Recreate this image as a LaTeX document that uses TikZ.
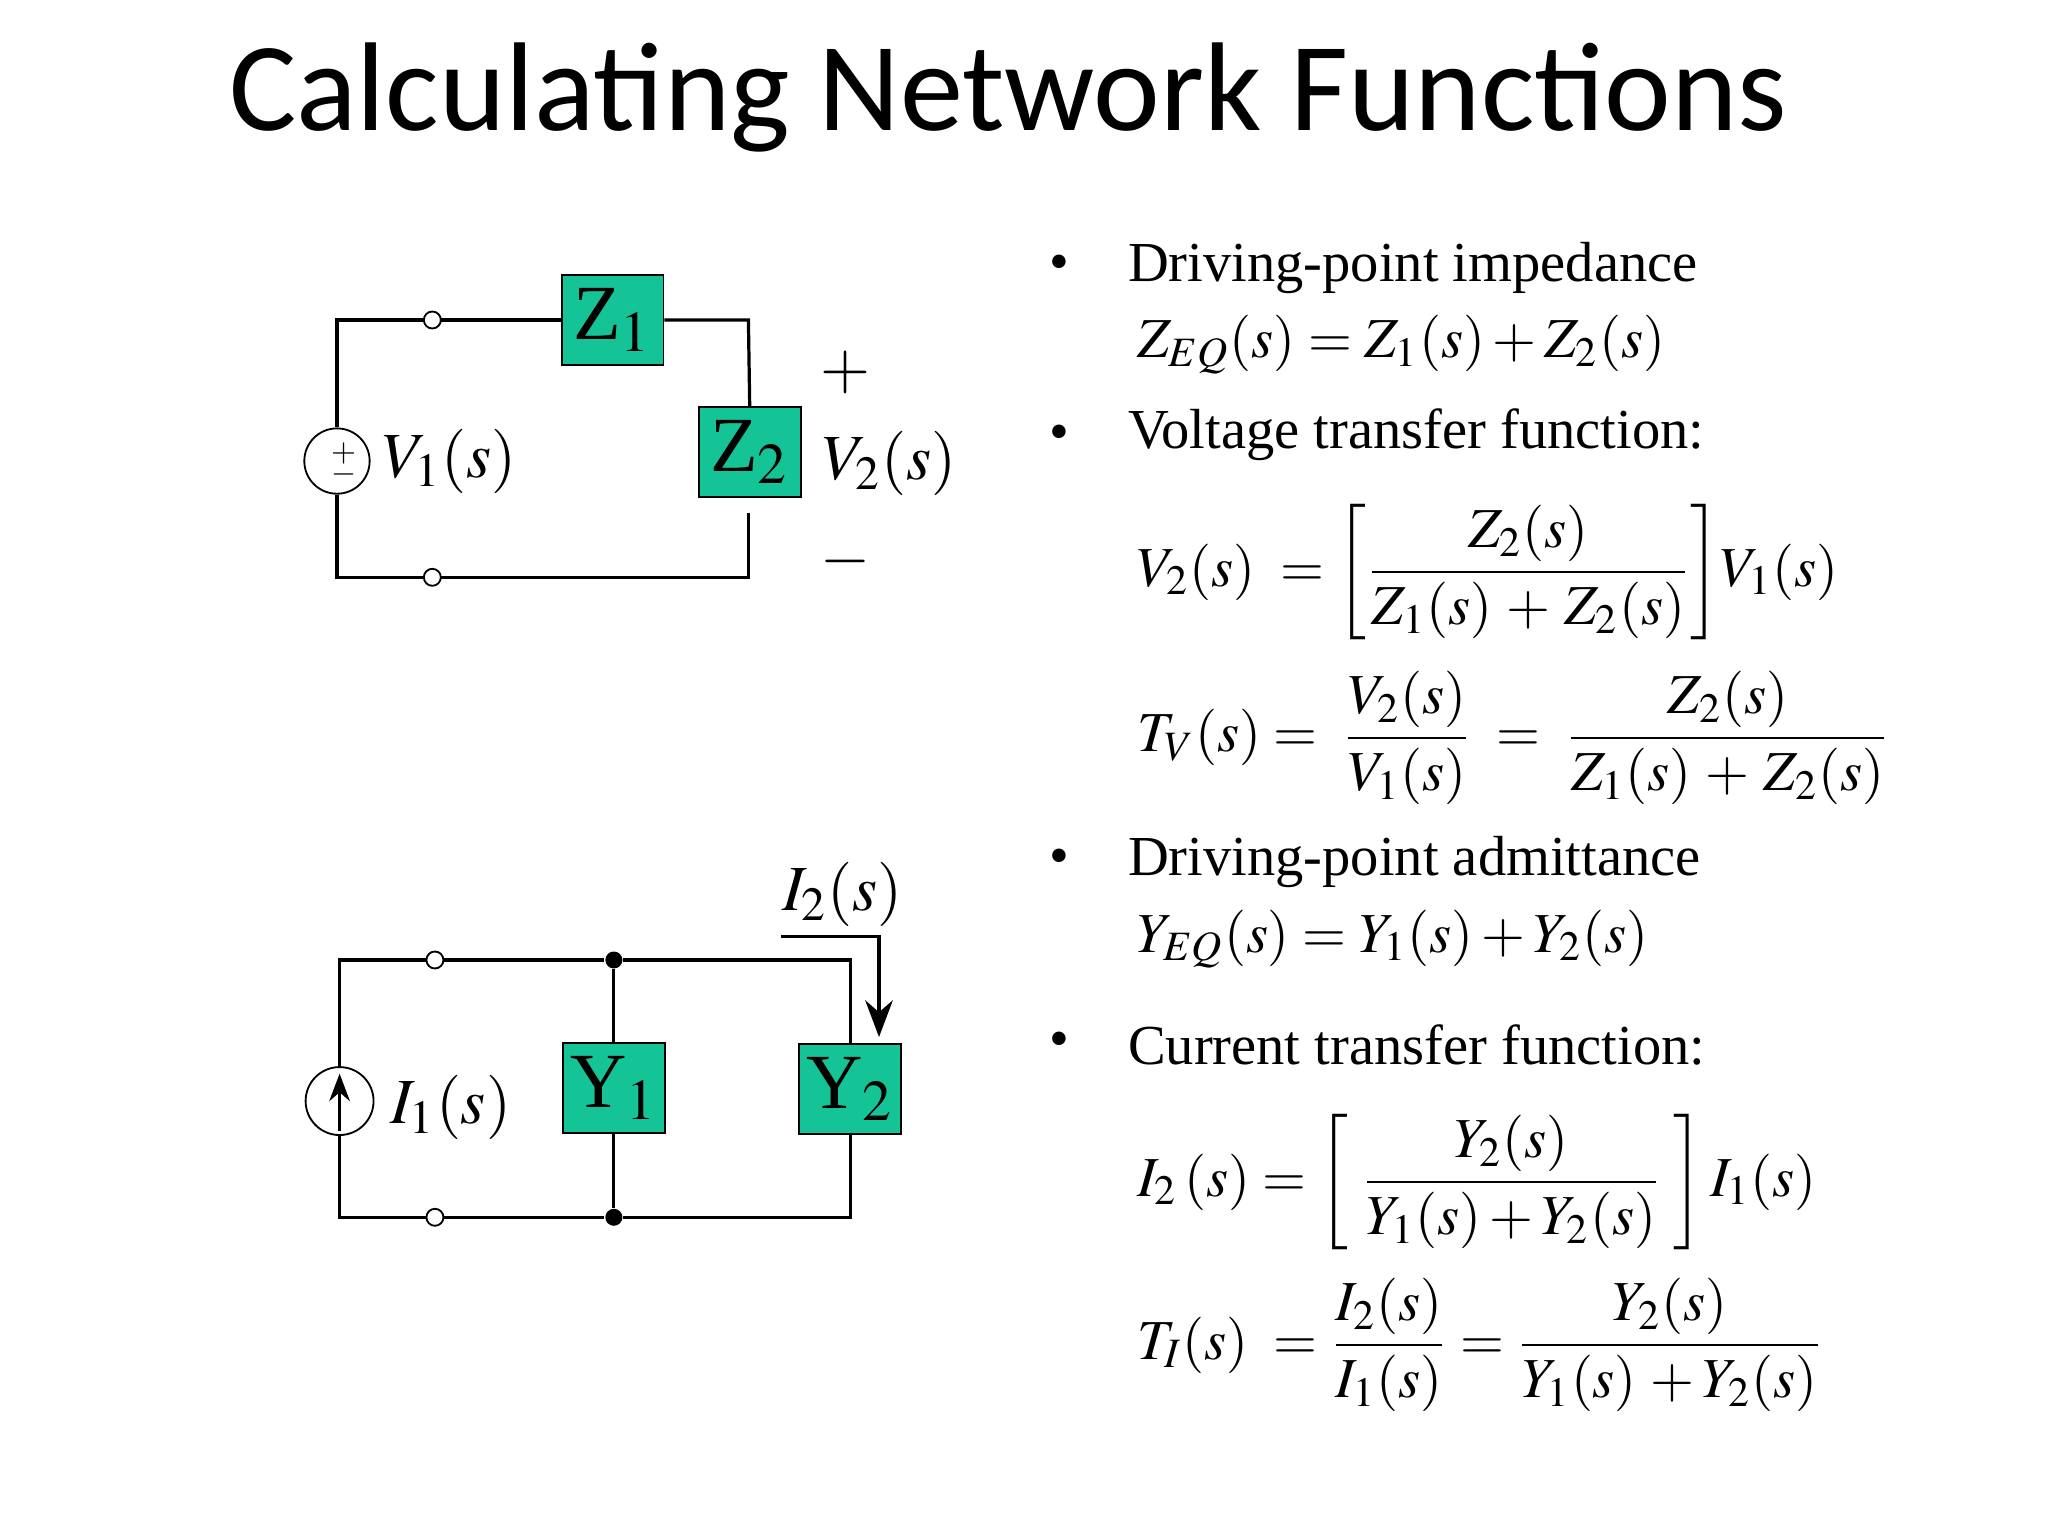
\documentclass[tikz,border=0pt]{standalone}
\usepackage{amsmath}
\usepackage{mathptmx}
\usepackage[no-math]{fontspec}
\usetikzlibrary{arrows.meta}
\setmainfont{Liberation Serif}
\newfontfamily\titlefont{Carlito}
\definecolor{boxg}{RGB}{20,196,150}
\tikzset{
  imp/.style={draw,fill=boxg,minimum width=0.78cm,minimum height=0.69cm,inner sep=0pt,font=\fontsize{17}{17}\selectfont},
  wire/.style={line width=0.7pt},
  term/.style={circle,draw,fill=white,inner sep=0pt,minimum size=0.13cm},
  jn/.style={circle,fill=black,inner sep=0pt,minimum size=0.13cm},
  txt/.style={anchor=west,inner sep=0pt,font=\fontsize{12.3}{15}\selectfont},
  eq/.style={anchor=west,inner sep=0pt,font=\fontsize{12.3}{15}\selectfont},
  lbl/.style={inner sep=0pt,font=\fontsize{14}{16}\selectfont}
}
\begin{document}
\begin{tikzpicture}[x=0.01cm,y=-0.01cm]
\useasboundingbox (0,0) rectangle (1568,1176);
\node[font=\titlefont\fontsize{27.5}{30}\selectfont] (title) at (772,75) {Calculating Network Functions};
% circuit 1
\node[imp] (z1) at (469,245) {Z$_1$};
\node[imp] (z2) at (574,346) {Z$_2$};
\node[circle,draw,minimum size=0.5cm,inner sep=0pt] (v1) at (258,353) {};
\node[font=\scriptsize,inner sep=0pt] (vp) at (263,347) {$+$};
\node[font=\scriptsize,inner sep=0pt] (vm) at (263,363) {$-$};
\coordinate (a1) at (258,245); \coordinate (a2) at (258,442);
\coordinate (a3) at (573,245); \coordinate (a4) at (573,442);
\coordinate (a5) at (573,393);
\draw[wire] (v1.north) -- (a1) -- (z1.west);
\draw[wire] (z1.east) -- (a3) -- (z2.north);
\draw[wire] (v1.south) -- (a2) -- (a4) -- (a5);
\node[term] (t1) at (331,245) {};
\node[term] (t2) at (331,442) {};
\node[lbl,anchor=west] (v1l) at (292,353) {$V_1(s)$};
\node[lbl] (pl) at (647,285) {$+$};
\node[lbl] (v2l) at (681,355) {$V_2(s)$};
\node[lbl] (ml) at (647,430) {$-$};
% circuit 2
\node[imp] (y1) at (470,833) {Y$_1$};
\node[imp] (y2) at (651,834) {Y$_2$};
\node[circle,draw,minimum size=0.52cm,inner sep=0pt] (i1) at (260,843) {};
\coordinate (s1) at (260,866); \coordinate (s2) at (260,822);
\draw[wire,-{Stealth[length=6pt]}] (s1) -- (s2);
\coordinate (b1) at (260,735); \coordinate (b2) at (260,932);
\coordinate (b3) at (651,735); \coordinate (b4) at (651,932);
\node[jn] (j1) at (470,735) {};
\node[jn] (j2) at (470,932) {};
\draw[wire] (i1.north) -- (b1) -- (j1) -- (b3) -- (y2.north);
\draw[wire] (i1.south) -- (b2) -- (j2) -- (b4) -- (y2.south);
\draw[wire] (j1) -- (y1.north); \draw[wire] (j2) -- (y1.south);
\node[term] (t3) at (333,735) {};
\node[term] (t4) at (333,932) {};
\coordinate (c1) at (598,717); \coordinate (c2) at (673,717); \coordinate (c3) at (673,794);
\draw[wire,-{Stealth[length=8pt]}] (c1) -- (c2) -- (c3);
\node[lbl] (i2l) at (645,685) {$I_2(s)$};
\node[lbl,anchor=west] (i1l) at (298,848) {$I_1(s)$};
% text
\foreach \y in {205,335,660,800} \node[txt] at (803,\y) {\textbullet};
\node[txt] (d1) at (863,205) {Driving-point impedance};
\node[eq] (e1) at (870,264) {$Z_{EQ}(s)=Z_1(s)+Z_2(s)$};
\node[txt] (d2) at (863,333) {Voltage transfer function:};
\node[eq] (e2) at (870,438) {$V_2(s)\;=\left[\dfrac{Z_2(s)}{Z_1(s)\,+\,Z_2(s)}\right]\!V_1(s)$};
\node[eq] (e3) at (870,565) {$T_V(s)=\;\dfrac{V_2(s)}{V_1(s)}\;=\;\dfrac{\;\;Z_2(s)\;\;}{Z_1(s)\,+\,Z_2(s)}$};
\node[txt] (d3) at (863,660) {Driving-point admittance};
\node[eq] (e4) at (870,719) {$Y_{EQ}(s)=Y_1(s)+Y_2(s)$};
\node[txt] (d4) at (863,800) {Current transfer function:};
\node[eq] (e5) at (870,905) {$I_2\,(s)=\left[\;\dfrac{Y_2(s)}{Y_1(s)+Y_2(s)}\;\right]I_1(s)$};
\node[eq] (e6) at (870,1030) {$T_I(s)\;=\dfrac{I_2(s)}{I_1(s)}=\dfrac{Y_2(s)}{Y_1(s)\,+Y_2(s)}$};
\end{tikzpicture}
\end{document}
